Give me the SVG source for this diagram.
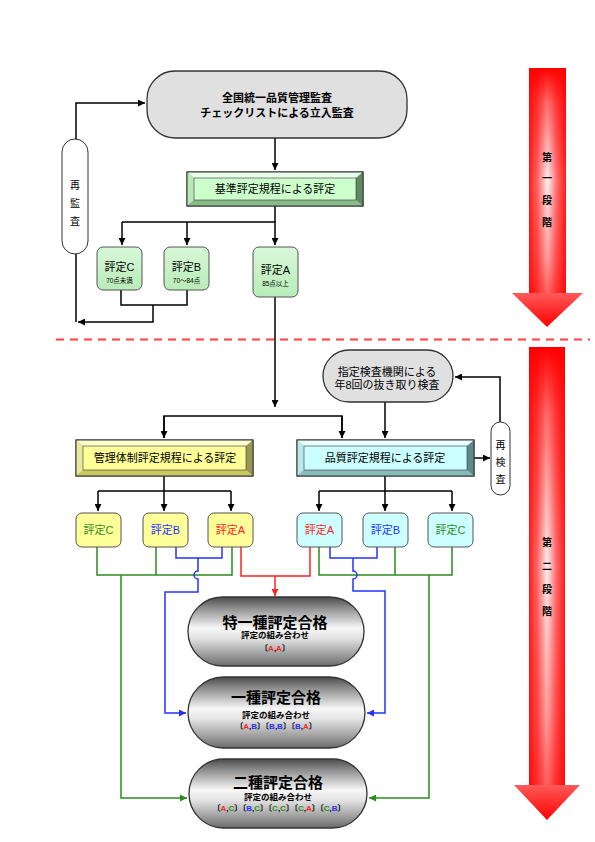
<svg xmlns="http://www.w3.org/2000/svg" width="595" height="842" viewBox="0 0 595 842">
<defs>
<style>
text{font-family:"Liberation Sans","Noto Sans CJK JP",sans-serif;fill:#000;text-anchor:middle}
.c{fill:none;stroke:#000;stroke-width:1.5}
.g{fill:none;stroke:#2e8b1e;stroke-width:1.5}
.b{fill:none;stroke:#2233ff;stroke-width:1.5}
.r{fill:none;stroke:#ff2222;stroke-width:1.5}
.gray{fill:#e0e0e0;stroke:#333;stroke-width:1.3}
.pill{fill:#fff;stroke:#333;stroke-width:1}
.gn{fill:url(#gnode);stroke:#555;stroke-width:1}
.yn{fill:#ffff99;stroke:#555;stroke-width:1}
.cn{fill:#ccffff;stroke:#555;stroke-width:1}
.fin{fill:url(#metal);stroke:#333;stroke-width:1.3}
.t11{font-size:11px}
.bold{font-weight:bold}
.ts{font-size:6.5px}
.tg{fill:#2e8b1e}.tb{fill:#2233ff}.tr{fill:#ff2222}
.vt{font-size:10px}
.combo{font-size:8px;font-weight:bold}
</style>
<linearGradient id="gnode" x1="0" y1="0" x2="0" y2="1"><stop offset="0" stop-color="#d8f8d8"/><stop offset="1" stop-color="#b8ecb8"/></linearGradient>
<linearGradient id="metal" x1="0" y1="0" x2="0" y2="1">
<stop offset="0" stop-color="#4a4a4a"/><stop offset="0.15" stop-color="#8a8a8a"/><stop offset="0.45" stop-color="#f8f8f8"/><stop offset="0.6" stop-color="#e2e2e2"/><stop offset="0.85" stop-color="#9a9a9a"/><stop offset="1" stop-color="#6a6a6a"/>
</linearGradient>
<linearGradient id="shaftH" x1="0" y1="0" x2="1" y2="0">
<stop offset="0" stop-color="#ff1a1a"/><stop offset="0.25" stop-color="#ff7070"/><stop offset="0.5" stop-color="#fff2f2"/><stop offset="0.75" stop-color="#ff7070"/><stop offset="1" stop-color="#ff1a1a"/>
</linearGradient>
<linearGradient id="shaftV" x1="0" y1="0" x2="0" y2="1">
<stop offset="0" stop-color="#ff0000" stop-opacity="1"/><stop offset="0.15" stop-color="#ff0000" stop-opacity="0.55"/><stop offset="0.5" stop-color="#ff0000" stop-opacity="0"/><stop offset="0.85" stop-color="#ff0000" stop-opacity="0.35"/><stop offset="1" stop-color="#ff0000" stop-opacity="0.6"/>
</linearGradient>
<linearGradient id="head" x1="0" y1="0" x2="0" y2="1"><stop offset="0" stop-color="#ff5a5a"/><stop offset="1" stop-color="#ff0000"/></linearGradient>
<marker id="ak" viewBox="0 0 8 8" refX="8" refY="4" markerWidth="7" markerHeight="7" orient="auto" markerUnits="userSpaceOnUse"><path d="M0,0 L8,4 L0,8 z" fill="#000"/></marker>
<marker id="ag" viewBox="0 0 8 8" refX="8" refY="4" markerWidth="7" markerHeight="7" orient="auto" markerUnits="userSpaceOnUse"><path d="M0,0 L8,4 L0,8 z" fill="#2e8b1e"/></marker>
<marker id="abl" viewBox="0 0 8 8" refX="8" refY="4" markerWidth="7" markerHeight="7" orient="auto" markerUnits="userSpaceOnUse"><path d="M0,0 L8,4 L0,8 z" fill="#2233ff"/></marker>
<marker id="ar" viewBox="0 0 8 8" refX="8" refY="4" markerWidth="7" markerHeight="7" orient="auto" markerUnits="userSpaceOnUse"><path d="M0,0 L8,4 L0,8 z" fill="#ff2222"/></marker>
</defs>
<rect width="595" height="842" fill="#fff"/>

<!-- stage arrows -->
<g id="stage1">
<rect x="529" y="68" width="37" height="226" fill="url(#shaftH)"/>
<rect x="529" y="68" width="37" height="226" fill="url(#shaftV)"/>
<polygon points="512,293 583,293 547,327" fill="url(#head)"/>
<text class="vt bold" x="547" y="161">第</text>
<text class="vt bold" x="547" y="182">一</text>
<text class="vt bold" x="547" y="204">段</text>
<text class="vt bold" x="547" y="226">階</text>
</g>
<g id="stage2">
<rect x="529" y="347" width="36" height="439" fill="url(#shaftH)"/>
<rect x="529" y="347" width="36" height="439" fill="url(#shaftV)"/>
<polygon points="514,785 580,785 547,820" fill="url(#head)"/>
<text class="vt bold" x="547" y="546">第</text>
<text class="vt bold" x="547" y="570">二</text>
<text class="vt bold" x="547" y="593">段</text>
<text class="vt bold" x="547" y="615">階</text>
</g>
<line x1="56" y1="339.5" x2="590" y2="339.5" stroke="#ff2020" stroke-width="2" stroke-dasharray="8 6" opacity="0.85"/>

<!-- connectors -->
<g id="connectors">
<path class="c" d="M76,140 V103 H145" marker-end="url(#ak)"/>
<path class="c" d="M76,254 V322"/>
<path class="c" d="M121,290 V305 H187 V290"/>
<path class="c" d="M153,305 V322 H78" marker-end="url(#ak)"/>
<path class="c" d="M275,138 V170" marker-end="url(#ak)"/>
<path class="c" d="M122,222 H275 V245" marker-end="url(#ak)"/>
<path class="c" d="M122,222 V245" marker-end="url(#ak)"/>
<path class="c" d="M187,222 V245" marker-end="url(#ak)"/>
<path class="c" d="M275,206 V222"/>
<path class="c" d="M275,297 V407" marker-end="url(#ak)"/>
<path class="c" d="M164,438 V416 H342 V438" />
<path class="c" d="M164,416 V438" marker-end="url(#ak)"/>
<path class="c" d="M342,416 V438" marker-end="url(#ak)"/>
<path class="c" d="M385,402 V438" marker-end="url(#ak)"/>
<path class="c" d="M500,422 V377 H455" marker-end="url(#ak)"/>
<path class="c" d="M474,458 H490" marker-end="url(#ak)"/>
<path class="c" d="M164,476 V491 M98,491 H231"/>
<path class="c" d="M98,491 V511" marker-end="url(#ak)"/>
<path class="c" d="M164,491 V511" marker-end="url(#ak)"/>
<path class="c" d="M231,491 V511" marker-end="url(#ak)"/>
<path class="c" d="M385,476 V491 M319,491 H452"/>
<path class="c" d="M319,491 V511" marker-end="url(#ak)"/>
<path class="c" d="M385,491 V511" marker-end="url(#ak)"/>
<path class="c" d="M452,491 V511" marker-end="url(#ak)"/>
<path class="g" d="M97,547 V575 H232 V547 M156,547 V575"/>
<path class="g" d="M121,575 V798 H187" marker-end="url(#ag)"/>
<path class="g" d="M319,547 V575 H452 V547 M395,547 V575"/>
<path class="g" d="M429,575 V798 H369" marker-end="url(#ag)"/>
<path class="b" d="M176,547 V558 H222 V547"/>
<path class="b" d="M198,558 V571 A4,4 0 0 0 198,579 V592 H165 V713 H186" marker-end="url(#abl)"/>
<path class="b" d="M330,547 V558 H377 V547"/>
<path class="b" d="M353,558 V571 A4,4 0 0 1 353,579 V591 H385 V713 H367" marker-end="url(#abl)"/>
<path class="r" d="M241,547 V576 H310 V547"/>
<path class="r" d="M275,576 V596" marker-end="url(#ar)"/>
</g>

<!-- nodes stage 1 -->
<g id="audit">
<rect class="gray" x="147" y="71" width="260" height="67" rx="28"/>
<text class="t11 bold" x="277" y="102">全国統一品質管理監査</text>
<text class="t11 bold" x="277" y="117">チェックリストによる立入監査</text>
</g>
<g id="reaudit">
<rect class="pill" x="62" y="139" width="26" height="115" rx="13"/>
<text class="vt" x="75" y="189">再</text>
<text class="vt" x="75" y="207">監</text>
<text class="vt" x="75" y="225">査</text>
</g>
<g id="kijun">
<rect x="187" y="172" width="176" height="34" fill="#99cc99" stroke="#333" stroke-width="1"/>
<polygon points="187,172 363,172 356,178 194,178" fill="#eaffea"/>
<polygon points="187,172 194,178 194,200 187,206" fill="#b8e8b8"/>
<polygon points="363,172 356,178 356,200 363,206" fill="#5f8a5f"/>
<polygon points="187,206 194,200 356,200 363,206" fill="#88bb88"/>
<rect x="194" y="178" width="162" height="22" fill="#ccffcc" stroke="#333" stroke-width="0.6"/>
<rect x="187" y="172" width="176" height="34" fill="none" stroke="#333" stroke-width="1"/>
<text class="t11" x="275" y="193">基準評定規程による評定</text>
</g>
<g id="s1C">
<rect class="gn" x="97" y="247" width="45" height="43" rx="6"/>
<text class="t11" x="119.5" y="271">評定C</text>
<text class="ts" x="119.5" y="283">70点未満</text>
</g>
<g id="s1B">
<rect class="gn" x="164" y="247" width="45" height="43" rx="6"/>
<text class="t11" x="186.5" y="271">評定B</text>
<text class="ts" x="186.5" y="283">70～84点</text>
</g>
<g id="s1A">
<rect class="gn" x="253" y="247" width="45" height="50" rx="6"/>
<text class="t11" x="275.5" y="274">評定A</text>
<text class="ts" x="275.5" y="286">85点以上</text>
</g>

<!-- stage 2 -->
<g id="sampling">
<rect class="gray" x="323" y="350" width="130" height="52" rx="26"/>
<text class="t11" x="387" y="376">指定検査機関による</text>
<text class="t11" x="387" y="389">年8回の抜き取り検査</text>
</g>
<g id="reinspect">
<rect class="pill" x="491" y="422" width="19" height="73" rx="9.5"/>
<text class="vt" x="500.5" y="449">再</text>
<text class="vt" x="500.5" y="466">検</text>
<text class="vt" x="500.5" y="483">査</text>
</g>
<g id="kanri">
<rect x="76" y="440" width="177" height="36" fill="#cccc66" stroke="#333" stroke-width="1"/>
<polygon points="76,440 253,440 246,446 83,446" fill="#ffffcc"/>
<polygon points="76,440 83,446 83,470 76,476" fill="#e8e8a0"/>
<polygon points="253,440 246,446 246,470 253,476" fill="#999955"/>
<polygon points="76,476 83,470 246,470 253,476" fill="#c8c860"/>
<rect x="83" y="446" width="163" height="24" fill="#ffff99" stroke="#333" stroke-width="0.6"/>
<rect x="76" y="440" width="177" height="36" fill="none" stroke="#333" stroke-width="1"/>
<text class="t11" x="165" y="462">管理体制評定規程による評定</text>
</g>
<g id="hinshitsu">
<rect x="297" y="440" width="177" height="36" fill="#99cccc" stroke="#333" stroke-width="1"/>
<polygon points="297,440 474,440 467,446 304,446" fill="#eaffff"/>
<polygon points="297,440 304,446 304,470 297,476" fill="#b8e8e8"/>
<polygon points="474,440 467,446 467,470 474,476" fill="#5f8a8a"/>
<polygon points="297,476 304,470 467,470 474,476" fill="#88bbbb"/>
<rect x="304" y="446" width="163" height="24" fill="#ccffff" stroke="#333" stroke-width="0.6"/>
<rect x="297" y="440" width="177" height="36" fill="none" stroke="#333" stroke-width="1"/>
<text class="t11" x="385" y="462">品質評定規程による評定</text>
</g>
<g id="k_C"><rect class="yn" x="76" y="513" width="45" height="34" rx="6"/><text class="t11 tg" x="98.5" y="534">評定C</text></g>
<g id="k_B"><rect class="yn" x="143" y="513" width="45" height="34" rx="6"/><text class="t11 tb" x="165.5" y="534">評定B</text></g>
<g id="k_A"><rect class="yn" x="208" y="513" width="45" height="34" rx="6"/><text class="t11 tr" x="230.5" y="534">評定A</text></g>
<g id="h_A"><rect class="cn" x="297" y="513" width="45" height="34" rx="6"/><text class="t11 tr" x="319.5" y="534">評定A</text></g>
<g id="h_B"><rect class="cn" x="363" y="513" width="45" height="34" rx="6"/><text class="t11 tb" x="385.5" y="534">評定B</text></g>
<g id="h_C"><rect class="cn" x="428" y="513" width="45" height="34" rx="6"/><text class="t11 tg" x="450.5" y="534">評定C</text></g>

<g id="toku">
<rect class="fin" x="188" y="597" width="176" height="69" rx="34.5"/>
<text class="bold" font-size="15" x="275" y="628">特一種評定合格</text>
<text class="bold" font-size="8.5" x="275" y="638">評定の組み合わせ</text>
<text class="combo" x="275" y="651">〔<tspan class="tr">A</tspan>,<tspan class="tr">A</tspan>〕</text>
</g>
<g id="isshu">
<rect class="fin" x="188" y="677" width="177" height="71" rx="35.5"/>
<text class="bold" font-size="15" x="276" y="703">一種評定合格</text>
<text class="bold" font-size="8.5" x="276" y="718">評定の組み合わせ</text>
<text class="combo" x="276" y="729">〔<tspan class="tr">A</tspan>,<tspan class="tb">B</tspan>〕〔<tspan class="tb">B</tspan>,<tspan class="tb">B</tspan>〕〔<tspan class="tb">B</tspan>,<tspan class="tr">A</tspan>〕</text>
</g>
<g id="nishu">
<rect class="fin" x="189" y="759" width="178" height="69" rx="34.5"/>
<text class="bold" font-size="15" x="278" y="788">二種評定合格</text>
<text class="bold" font-size="8.5" x="278" y="800">評定の組み合わせ</text>
<text class="combo" x="279" y="811">〔<tspan class="tr">A</tspan>,<tspan class="tg">C</tspan>〕〔<tspan class="tb">B</tspan>,<tspan class="tg">C</tspan>〕〔<tspan class="tg">C</tspan>,<tspan class="tg">C</tspan>〕〔<tspan class="tg">C</tspan>,<tspan class="tr">A</tspan>〕〔<tspan class="tg">C</tspan>,<tspan class="tb">B</tspan>〕</text>
</g>
</svg>
